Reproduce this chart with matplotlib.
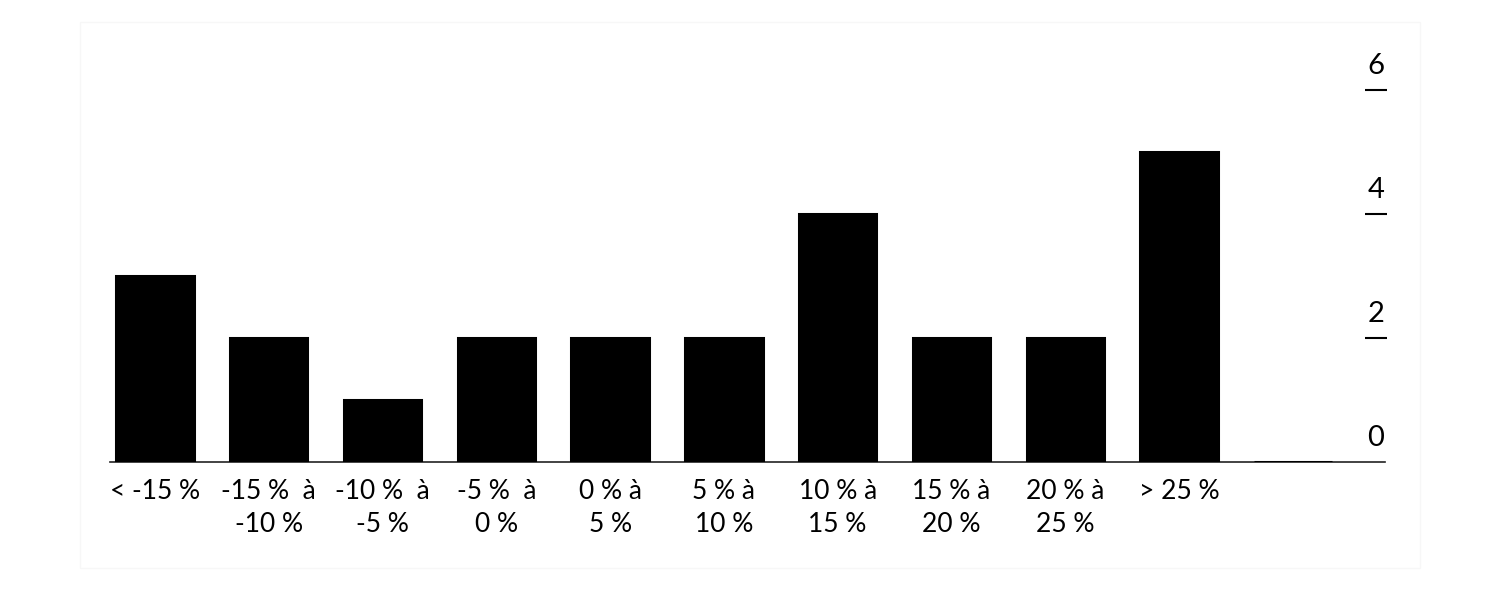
import matplotlib
matplotlib.use("Agg")
import matplotlib.pyplot as plt
from matplotlib.patches import Rectangle

categories = ["< -15 %", "-15 %  à\n-10 %", "-10 %  à\n-5 %", "-5 %  à\n0 %", "0 % à\n5 %",
              "5 % à\n10 %", "10 % à\n15 %", "15 % à\n20 %", "20 % à\n25 %", "> 25 %", ""]
values = [3, 2, 1, 2, 2, 2, 4, 2, 2, 5, 0]
yticks = [0, 2, 4, 6]

plt.rcParams['font.family'] = ['Lato', 'DejaVu Sans']

W, H = 1500, 600
fig = plt.figure(figsize=(15, 6), dpi=100)

# faint frame
fig.add_artist(Rectangle((80 / W, 1 - 568 / H), 1340 / W, 546 / H, transform=fig.transFigure,
                         fill=False, edgecolor="#f7f7f7", lw=1))

left, right = 110, 1385
y0, y6 = 462, 90
ax = fig.add_axes([left / W, 1 - y0 / H, (right - left) / W, (y0 - y6) / H])
ax.set_xlim(-0.395, 10.81)
ax.set_ylim(0, 6)

x = list(range(len(values)))
ax.bar(x, values, width=0.68, color="black", edgecolor="black", linewidth=2.2, zorder=3)

for s in ["top", "left", "right"]:
    ax.spines[s].set_visible(False)
ax.spines["bottom"].set_color("#222222")
ax.spines["bottom"].set_linewidth(1.2)

ax.set_yticks([])
ax.set_xticks(x)
ax.set_xticklabels(categories, fontsize=19, linespacing=1.4, va="top")
ax.tick_params(axis="x", length=0, pad=12)

# right-side ticks with labels above
for t in yticks[1:]:
    ax.hlines(t, 10.63, 10.825, color="black", lw=1.5, clip_on=False)
for t in yticks:
    ax.annotate(str(t), xy=(10.73, t), xytext=(0, 8), textcoords="offset points",
                ha="center", va="bottom", fontsize=21, annotation_clip=False)

fig.savefig("out.png", dpi=100, facecolor="white")
